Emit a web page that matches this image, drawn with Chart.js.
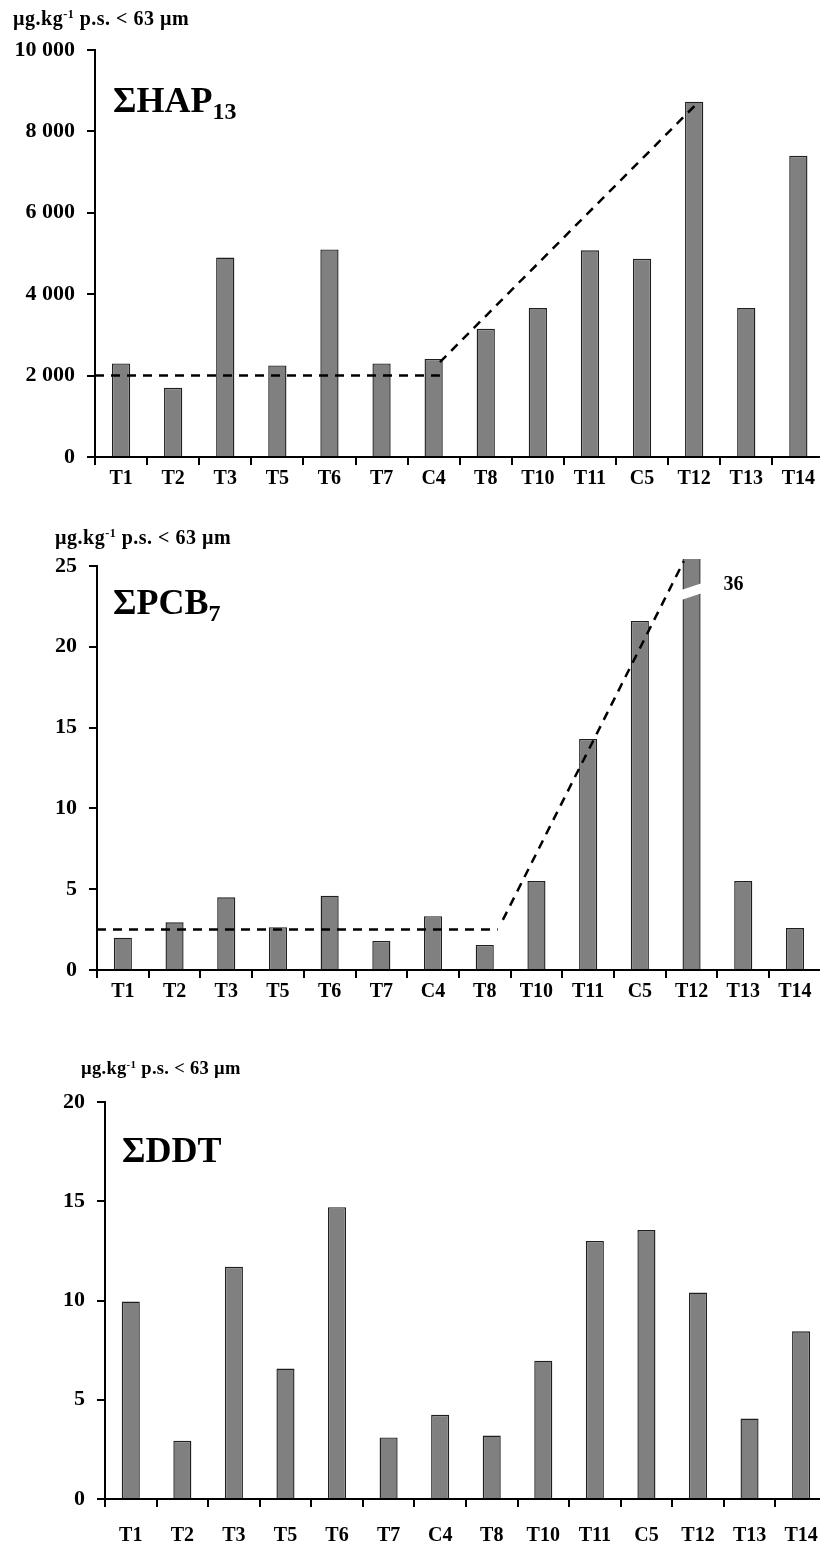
<!DOCTYPE html>
<html>
<head>
<meta charset="utf-8">
<script src="https://cdn.jsdelivr.net/npm/chart.js@4"></script>
<style>
  html, body { margin: 0; padding: 0; background: #fff; overflow: hidden; width: 820px; height: 1546px; }
  .wrap { position: absolute; left: 0; }
  .lbl { position: absolute; font-family: "Liberation Serif", "Times New Roman", serif; font-weight: bold; color: #000; white-space: nowrap; line-height: 1; }
  .lbl sup { font-size: 0.6em; vertical-align: 0.55em; }
  .unit { font-size: 20px; letter-spacing: 0.5px; }
  .ttl { font-size: 36px; }
  .ttl .sb { font-size: 24px; position: relative; top: 7px; }
</style>
</head>
<body>

<div class="wrap" style="top:0;"><canvas id="hapChart" width="830" height="500"></canvas></div>
<div class="wrap" style="top:520px;"><canvas id="pcbChart" width="830" height="480"></canvas></div>
<div class="wrap" style="top:1050px;"><canvas id="ddtChart" width="835" height="496"></canvas></div>

<div class="lbl unit" style="left:13px; top:8px;">µg.kg<sup>-1</sup> p.s. &lt; 63 µm</div>
<div class="lbl ttl" style="left:113px; top:82px;">ΣHAP<span class="sb">13</span></div>

<div class="lbl unit" style="left:55px; top:527px;">µg.kg<sup>-1</sup> p.s. &lt; 63 µm</div>
<div class="lbl ttl" style="left:113px; top:584px;">ΣPCB<span class="sb">7</span></div>

<div class="lbl unit" style="left:81px; top:1059px; font-size:18.5px; letter-spacing:0.3px;">µg.kg<sup>-1</sup> p.s. &lt; 63 µm</div>
<div class="lbl ttl" style="left:122px; top:1132px;">ΣDDT</div>

<script>
// stations
var stations = ["T1", "T2", "T3", "T5", "T6", "T7", "C4", "T8", "T10", "T11", "C5", "T12", "T13", "T14"];

// series values (µg/kg dry weight < 63 µm)
var hapValues = [2300, 1700, 4900, 2250, 5100, 2300, 2410, 3150, 3660, 5080, 4870, 8730, 3660, 7400];
var pcbValues = [2.0, 2.95, 4.5, 2.65, 4.6, 1.8, 3.33, 1.55, 5.5, 14.3, 21.6, 36, 5.5, 2.6];
var ddtValues = [9.95, 2.93, 11.7, 6.57, 14.7, 3.1, 4.24, 3.2, 6.97, 13.0, 13.55, 10.4, 4.05, 8.45];

// dashed trend lines (x = station index)
var hapBackground = [{x: -0.5, y: 2000}, {x: 6.12, y: 2000}];
var hapTrend = [{x: 6.12, y: 2330}, {x: 11.05, y: 8680}];
var pcbBackground = [{x: -0.5, y: 2.5}, {x: 7.25, y: 2.5}];
var pcbTrend = [{x: 7.35, y: 3.1}, {x: 10.85, y: 25.3}];

// axis ticks
var hapTicks = {max: 10000, step: 2000};
var pcbTicks = {max: 25, step: 5};
var ddtTicks = {max: 20, step: 5};

var serif = "'Liberation Serif', 'Times New Roman', serif";

function fmtThousands(v) {
  return String(v).replace(/\B(?=(\d{3})+(?!\d))/g, " ");
}

function dashed(points) {
  return {
    type: 'line',
    data: points,
    xAxisID: 'x2',
    borderColor: '#000',
    borderWidth: 2.5,
    borderDash: [9, 7],
    pointRadius: 0,
    fill: false,
    clip: {left: 0, top: 10, right: 0, bottom: 0}
  };
}

function makeChart(id, values, ticks, opts) {
  var datasets = [{
    type: 'bar',
    data: values,
    backgroundColor: '#808080',
    borderColor: '#1f1f1f',
    borderWidth: 1.4,
    grouped: false,
    categoryPercentage: 1,
    barPercentage: 0.35,
    clip: {left: 0, top: 7, right: 0, bottom: 0},
    order: 2
  }];
  (opts.lines || []).forEach(function (l) {
    var d = dashed(l);
    d.order = 1;
    datasets.push(d);
  });

  return new Chart(document.getElementById(id).getContext('2d'), {
    data: { labels: stations, datasets: datasets },
    options: {
      responsive: false,
      animation: false,
      layout: { autoPadding: false, padding: { top: opts.top, right: opts.right, left: 0, bottom: 0 } },
      plugins: { legend: { display: false }, tooltip: { enabled: false } },
      scales: {
        x: {
          type: 'category',
          offset: true,
          grid: { offset: true, drawOnChartArea: false, drawTicks: true, tickLength: 8, color: '#000', lineWidth: 2 },
          border: { color: '#000', width: 2 },
          ticks: { color: '#000', font: { family: serif, size: 20, weight: 'bold' }, padding: opts.labelPad, maxRotation: 0, autoSkip: false },
          afterFit: function (s) { s.height = opts.xh; }
        },
        x2: { type: 'linear', display: false, min: -0.5, max: 13.5 },
        y: {
          min: 0, max: ticks.max,
          grid: { drawOnChartArea: false, drawTicks: true, tickLength: 8, color: '#000', lineWidth: 2 },
          border: { color: '#000', width: 2 },
          ticks: { stepSize: ticks.step, color: '#000', padding: 12, font: { family: serif, size: 22, weight: 'bold' }, callback: function (v) { return fmtThousands(v); } },
          afterFit: function (s) { s.width = opts.left; }
        }
      }
    },
    plugins: opts.plugins || []
  });
}

// axis break on the T12 PCB bar with its true value
var breakPlugin = {
  id: 'breakMark',
  afterDatasetsDraw: function (chart) {
    var i = 11;
    var x = chart.scales.x.getPixelForValue(i);
    var yb = chart.scales.y.getPixelForValue(23.0);
    var ctx = chart.ctx;
    ctx.save();
    ctx.fillStyle = '#fff';
    ctx.beginPath();
    ctx.moveTo(x - 11, yb + 2);
    ctx.lineTo(x + 13, yb - 6);
    ctx.lineTo(x + 13, yb - 16);
    ctx.lineTo(x - 11, yb - 8);
    ctx.closePath();
    ctx.fill();
    ctx.fillStyle = '#000';
    ctx.font = 'bold 20px ' + serif;
    ctx.textBaseline = 'middle';
    ctx.fillText(String(pcbValues[i]), x + 32, yb - 13);
    ctx.restore();
  }
};

makeChart('hapChart', hapValues, hapTicks, { top: 50, right: 830 - 95 - 52.1 * 14, left: 95, xh: 43, labelPad: 2, lines: [hapBackground, hapTrend] });
makeChart('pcbChart', pcbValues, pcbTicks, { top: 46, right: 830 - 97 - 51.7 * 14, left: 97, xh: 30, labelPad: 2, lines: [pcbBackground, pcbTrend], plugins: [breakPlugin] });
makeChart('ddtChart', ddtValues, ddtTicks, { top: 52, right: 835 - 105 - 51.7 * 14, left: 105, xh: 47, labelPad: 17 });
</script>
</body>
</html>
